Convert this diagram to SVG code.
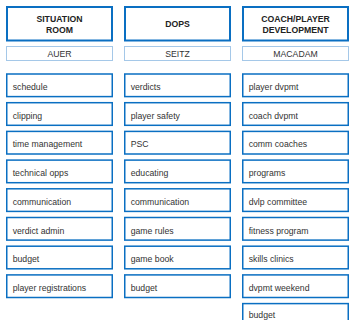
<svg xmlns="http://www.w3.org/2000/svg" width="353" height="320" viewBox="0 0 353 320">
<style>
.hd{fill:#fff;stroke:#0a6fc2;stroke-width:2}
.nm{fill:#fff;stroke:#4a90d0;stroke-width:1;stroke-dasharray:1 1}
.it{fill:#fff;stroke:#0a6fc2;stroke-width:1.5}
text{font-family:"Liberation Sans",Arial,sans-serif;font-size:8.7px;fill:#333}
.ht{font-weight:bold;fill:#222;text-anchor:middle}
.nt{text-anchor:middle}
</style>
<rect width="353" height="320" fill="#fff"/>
<g id="h1"><rect class="hd" x="7" y="7" width="105" height="33.5"/><text class="ht" x="59.5" y="22.3">SITUATION</text><text class="ht" x="59.5" y="32.7">ROOM</text></g>
<g id="h2"><rect class="hd" x="125" y="7" width="105" height="33.5"/><text class="ht" x="177.5" y="27.3">DOPS</text></g>
<g id="h3"><rect class="hd" x="243" y="7" width="105" height="33.5"/><text class="ht" x="295.5" y="22.3">COACH/PLAYER</text><text class="ht" x="295.5" y="32.7">DEVELOPMENT</text></g>
<g id="n1"><rect class="nm" x="6.5" y="46.5" width="106" height="14"/><text class="nt" x="59.5" y="56.7">AUER</text></g>
<g id="n2"><rect class="nm" x="124.5" y="46.5" width="106" height="14"/><text class="nt" x="177.5" y="56.7">SEITZ</text></g>
<g id="n3"><rect class="nm" x="242.5" y="46.5" width="106" height="14"/><text class="nt" x="295.5" y="56.7">MACADAM</text></g>
<g id="c1">
<g id="c1i1"><rect class="it" x="6.75" y="74" width="105.5" height="22.6"/><text x="12.7" y="90">schedule</text></g>
<g id="c1i2"><rect class="it" x="6.75" y="102.7" width="105.5" height="22.6"/><text x="12.7" y="118.7">clipping</text></g>
<g id="c1i3"><rect class="it" x="6.75" y="131.4" width="105.5" height="22.6"/><text x="12.7" y="147.4">time management</text></g>
<g id="c1i4"><rect class="it" x="6.75" y="160.1" width="105.5" height="22.6"/><text x="12.7" y="176.1">technical opps</text></g>
<g id="c1i5"><rect class="it" x="6.75" y="188.8" width="105.5" height="22.6"/><text x="12.7" y="204.8">communication</text></g>
<g id="c1i6"><rect class="it" x="6.75" y="217.5" width="105.5" height="22.6"/><text x="12.7" y="233.5">verdict admin</text></g>
<g id="c1i7"><rect class="it" x="6.75" y="246.2" width="105.5" height="22.6"/><text x="12.7" y="262.2">budget</text></g>
<g id="c1i8"><rect class="it" x="6.75" y="274.9" width="105.5" height="22.6"/><text x="12.7" y="290.9">player registrations</text></g>
</g>
<g id="c2">
<g id="c2i1"><rect class="it" x="124.75" y="74" width="105.5" height="22.6"/><text x="130.7" y="90">verdicts</text></g>
<g id="c2i2"><rect class="it" x="124.75" y="102.7" width="105.5" height="22.6"/><text x="130.7" y="118.7">player safety</text></g>
<g id="c2i3"><rect class="it" x="124.75" y="131.4" width="105.5" height="22.6"/><text x="130.7" y="147.4">PSC</text></g>
<g id="c2i4"><rect class="it" x="124.75" y="160.1" width="105.5" height="22.6"/><text x="130.7" y="176.1">educating</text></g>
<g id="c2i5"><rect class="it" x="124.75" y="188.8" width="105.5" height="22.6"/><text x="130.7" y="204.8">communication</text></g>
<g id="c2i6"><rect class="it" x="124.75" y="217.5" width="105.5" height="22.6"/><text x="130.7" y="233.5">game rules</text></g>
<g id="c2i7"><rect class="it" x="124.75" y="246.2" width="105.5" height="22.6"/><text x="130.7" y="262.2">game book</text></g>
<g id="c2i8"><rect class="it" x="124.75" y="274.9" width="105.5" height="22.6"/><text x="130.7" y="290.9">budget</text></g>
</g>
<g id="c3">
<g id="c3i1"><rect class="it" x="242.75" y="74" width="105.5" height="22.6"/><text x="248.7" y="90">player dvpmt</text></g>
<g id="c3i2"><rect class="it" x="242.75" y="102.7" width="105.5" height="22.6"/><text x="248.7" y="118.7">coach dvpmt</text></g>
<g id="c3i3"><rect class="it" x="242.75" y="131.4" width="105.5" height="22.6"/><text x="248.7" y="147.4">comm coaches</text></g>
<g id="c3i4"><rect class="it" x="242.75" y="160.1" width="105.5" height="22.6"/><text x="248.7" y="176.1">programs</text></g>
<g id="c3i5"><rect class="it" x="242.75" y="188.8" width="105.5" height="22.6"/><text x="248.7" y="204.8">dvlp committee</text></g>
<g id="c3i6"><rect class="it" x="242.75" y="217.5" width="105.5" height="22.6"/><text x="248.7" y="233.5">fitness program</text></g>
<g id="c3i7"><rect class="it" x="242.75" y="246.2" width="105.5" height="22.6"/><text x="248.7" y="262.2">skills clinics</text></g>
<g id="c3i8"><rect class="it" x="242.75" y="274.9" width="105.5" height="22.6"/><text x="248.7" y="290.9">dvpmt weekend</text></g>
<g id="c3i9"><rect class="it" x="242.75" y="303.6" width="105.5" height="22.6"/><text x="248.7" y="317.6">budget</text></g>
</g>
</svg>
